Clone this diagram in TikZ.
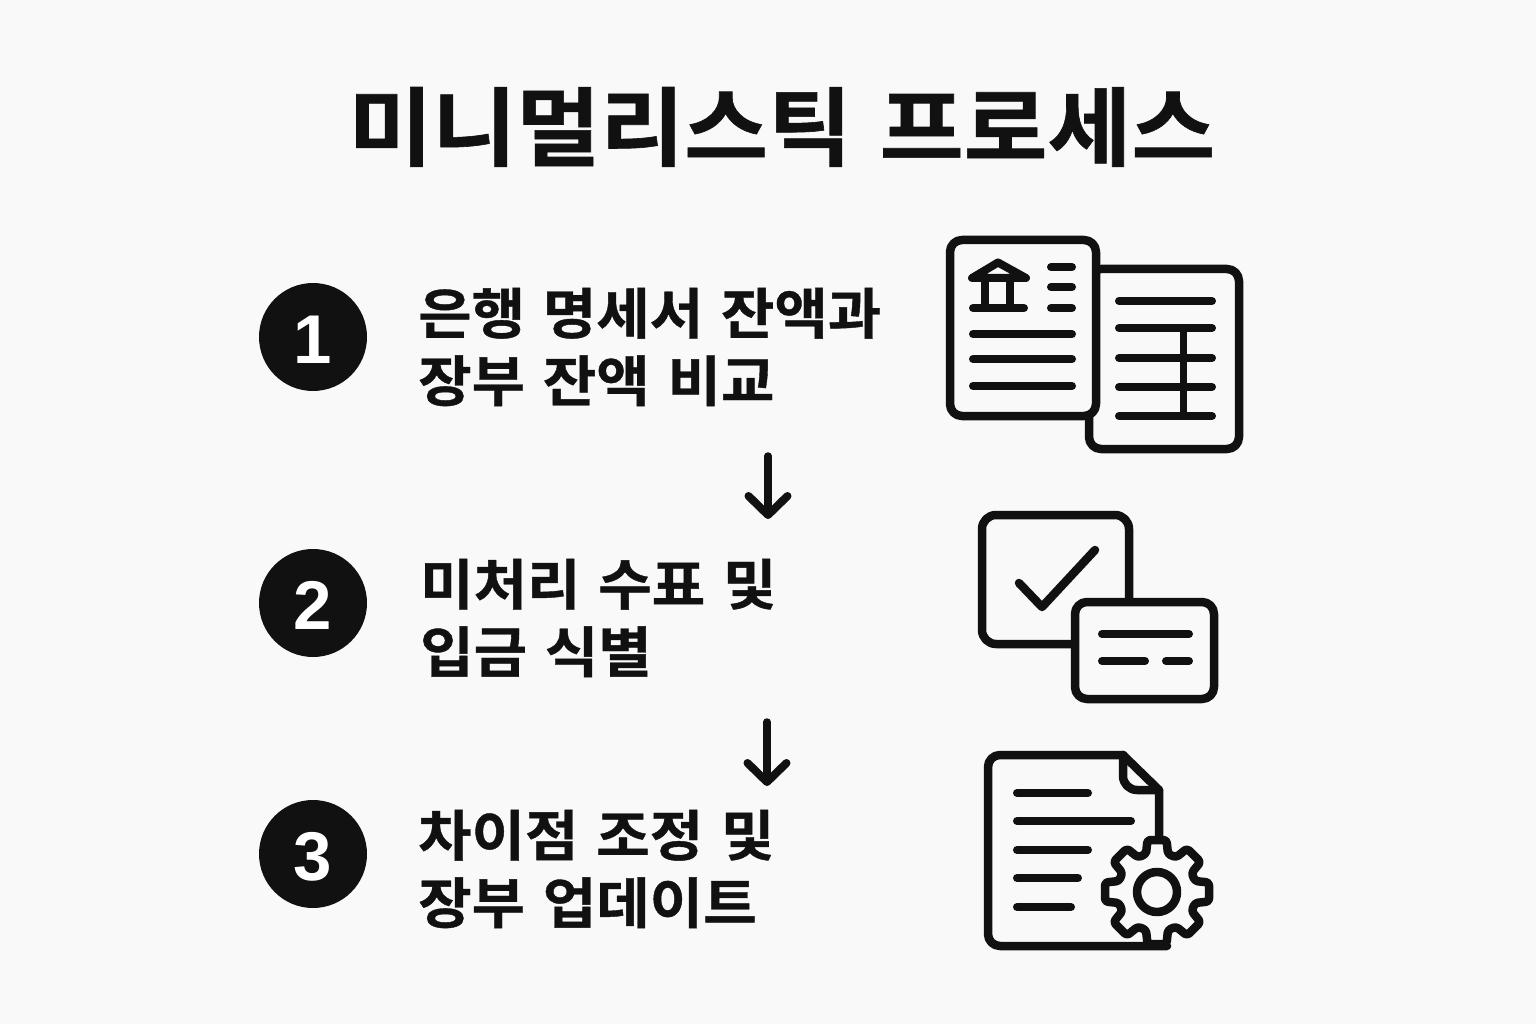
\documentclass[tikz,border=0pt]{standalone}
\usepackage{fontspec}
\setmainfont[WordSpace=1.35,FakeStretch=1.06,FakeBold=0.7]{Noto Sans CJK KR Bold}
\newfontfamily\digitfont{Liberation Sans Bold}
\usetikzlibrary{arrows.meta}
\definecolor{paper}{HTML}{F9F9F9}
\definecolor{ink}{HTML}{111111}

\begin{document}
\begin{tikzpicture}[
  x=1pt,y=-1pt,
  every node/.style={text=ink,inner sep=0pt},
  titletext/.style={font=\fontsize{86}{100}\selectfont},
  stepnum/.style={circle,fill=ink,minimum size=108pt,text=white,text height=53pt,font=\digitfont\fontsize{69}{70}\selectfont},
  steptext/.style={anchor=west,align=left,font=\fontsize{54.8}{67.5}\selectfont},
  flow/.style={-{Straight Barb[round,length=19pt,width=39pt,line width=8pt]},line width=7.5pt,line cap=round,ink},
  icon/.style={line width=8.5pt,draw=ink,line join=round,line cap=round},
  rule/.style={line width=8pt,draw=ink,line cap=round}
]
  % Page
  \fill[paper] (0,0) rectangle (1536,1024);
  \useasboundingbox (0,0) rectangle (1536,1024);

  % Title
  \node[titletext] (title) at (782,127) {미니멀리스틱 프로세스};

  % Numbered steps
  \node[stepnum] (num1) at (313,337) {1};
  \node[stepnum] (num2) at (313,603) {2};
  \node[stepnum] (num3) at (313,854) {3};
  \node[steptext] (txt1) at (418,347) {은행 명세서 잔액과\\장부 잔액 비교};
  \node[steptext] (txt2) at (420,618) {미처리 수표 및\\입금 식별};
  \node[steptext] (txt3) at (418,869) {차이점 조정 및\\장부 업데이트};

  % Arrows between steps
  \coordinate (a1top) at (768,456);
  \coordinate (a1end) at (768,519);
  \coordinate (a2top) at (767,722);
  \coordinate (a2end) at (767,786);
  \draw[flow] (a1top) -- (a1end);
  \draw[flow] (a2top) -- (a2end);

  % Icon 1: two statements
  \draw[icon,rounded corners=12pt] (1089,269) rectangle (1239,449);
  \foreach \y in {301,328,358,387,416}
    \draw[rule] (1119,\y) -- (1212,\y);
  \draw[line width=7pt,draw=ink] (1183,328) -- (1183,416);
  \draw[icon,fill=paper,rounded corners=12pt] (950,240) rectangle (1096,416);
  \foreach \y in {334,359,386}
    \draw[rule] (973,\y) -- (1072,\y);
  \foreach \y in {267,287,308}
    \draw[rule] (1051,\y) -- (1072,\y);
  \draw[rule] (973,308) -- (1024,308);
  \draw[line width=8pt,draw=ink] (985,278) -- (985,308);
  \draw[line width=8pt,draw=ink] (1010,278) -- (1010,308);
  \draw[line width=8pt,draw=ink,line join=round] (972,278) -- (998,262.5) -- (1026,278) -- cycle;

  % Icon 2: check box and card
  \draw[icon,rounded corners=14pt] (982,515) rectangle (1129,644);
  \draw[icon] (1019,583) -- (1042,607) -- (1095,550);
  \draw[icon,fill=paper,rounded corners=12pt] (1075,602) rectangle (1214,699);
  \draw[rule] (1102,634) -- (1189,634);
  \draw[rule] (1102,661) -- (1145,661);
  \draw[rule] (1166,661) -- (1189,661);

  % Icon 3: document and gear
  \draw[icon,rounded corners=12pt] (1167,946) -- (988,946) -- (988,755) -- (1123,755);
  \draw[icon] (1123,755) -- (1159,790) -- (1159,845);
  \draw[icon,rounded corners=14pt] (1123,755) -- (1123,790) -- (1159,790);
  \foreach \y/\xe in {793/1088,821/1131,850/1088,878/1078,907/1071}
    \draw[rule] (1017,\y) -- (\xe,\y);
  \draw[icon,fill=paper,rounded corners=3pt,shift={(1157,892)}]
    (-11,-38) \foreach \a in {0,-45,...,-315}
      { -- ([rotate=\a]-11,-38) -- ([rotate=\a]-9.5,-52) -- ([rotate=\a]9.5,-52) -- ([rotate=\a]11,-38) } -- cycle;
  \draw[icon,shift={(1157,892)}] (0,0) circle (20);
\end{tikzpicture}
\end{document}
